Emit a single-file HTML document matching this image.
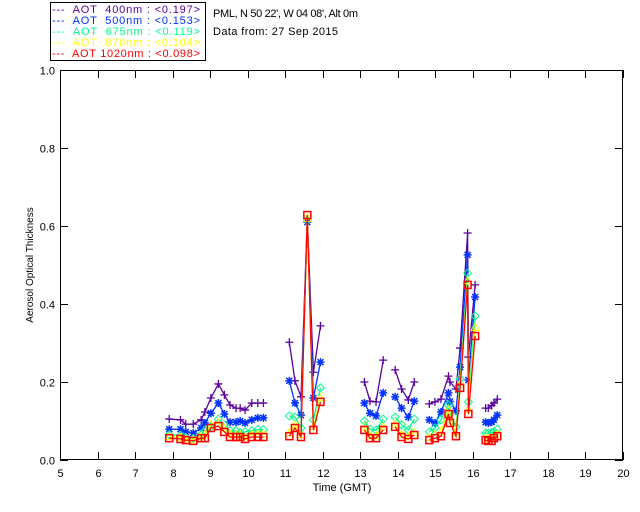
<!DOCTYPE html>
<html><head><meta charset="utf-8"><style>
html,body{margin:0;padding:0;background:#fff;}
svg{display:block;font-family:"Liberation Sans",sans-serif;}
</style></head><body>
<svg id="chart" width="640" height="512" viewBox="0 0 640 512" xmlns="http://www.w3.org/2000/svg">
<rect x="0" y="0" width="640" height="512" fill="#fff"/>
<g>
<rect x="50.5" y="2.5" width="155" height="58" fill="#fff" stroke="#000" stroke-width="1"/>
<text x="52" y="13" font-size="11" fill="#5a00a0" textLength="148" lengthAdjust="spacing" xml:space="preserve">---  AOT  400nm : &lt;0.197&gt;</text>
<text x="52" y="24" font-size="11" fill="#0033ff" textLength="148" lengthAdjust="spacing" xml:space="preserve">---  AOT  500nm : &lt;0.153&gt;</text>
<text x="52" y="35" font-size="11" fill="#00ff88" textLength="148" lengthAdjust="spacing" xml:space="preserve">---  AOT  675nm : &lt;0.119&gt;</text>
<text x="52" y="46" font-size="11" fill="#ffff00" textLength="148" lengthAdjust="spacing" xml:space="preserve">---  AOT  870nm : &lt;0.104&gt;</text>
<text x="52" y="57" font-size="11" fill="#ff0000" textLength="148" lengthAdjust="spacing" xml:space="preserve">---  AOT 1020nm : &lt;0.098&gt;</text>
</g>
<text x="213" y="17" font-size="11" fill="#000" textLength="145" lengthAdjust="spacing">PML, N 50 22', W 04 08', Alt 0m</text>
<text x="213" y="35" font-size="11" fill="#000" textLength="125" lengthAdjust="spacing">Data from: 27 Sep 2015</text>
<rect x="60.5" y="70.5" width="562" height="389" fill="none" stroke="#000" stroke-width="1"/>
<g id="axes"></g>
<g id="series"></g>
<text x="342" y="491" font-size="11" text-anchor="middle" fill="#000">Time (GMT)</text>
<text transform="translate(33,265) rotate(-90)" font-size="10" text-anchor="middle" fill="#000">Aerosol Optical Thickness</text>
</svg>
<script>
const xTicks=[5,6,7,8,9,10,11,12,13,14,15,16,17,18,19,20];
const yTicks=[0.0,0.2,0.4,0.6,0.8,1.0];
const yTickLabels=["0.0","0.2","0.4","0.6","0.8","1.0"];
const times=[7.91,8.21,8.35,8.55,8.76,8.86,9.02,9.22,9.38,9.53,9.69,9.80,9.93,10.11,10.27,10.42,null,
11.11,11.26,11.42,11.59,11.75,11.94,null,
13.11,13.26,13.42,13.61,null,
13.93,14.10,14.28,14.44,null,
14.84,14.99,15.15,15.35,15.39,15.55,15.66,15.86,15.88,16.06,null,
16.34,16.41,16.50,16.56,16.65];
const aot400=[.105,.103,.092,.092,.103,.123,.159,.195,.167,.141,.133,.133,.128,.146,.146,.146,null,
.302,.203,.162,.62,.225,.344,null,.2,.151,.149,.256,null,.231,.182,.154,.2,null,
.144,.149,.156,.215,.2,.182,.287,.582,.264,.449,null,.133,.133,.14,.146,.156];
const aot500=[.079,.079,.072,.069,.082,.095,.12,.146,.118,.097,.097,.1,.095,.103,.108,.108,null,
.203,.146,.115,.61,.159,.251,null,.146,.12,.113,.172,null,.162,.133,.11,.151,null,
.103,.095,.123,.172,.15,.126,.238,.526,.205,.418,null,.097,.095,.097,.103,.115];
const aot675=[.065,.063,.058,.055,.065,.075,.085,.105,.09,.075,.075,.07,.072,.075,.078,.078,null,
.113,.11,.082,.615,.103,.185,null,.1,.079,.077,.105,null,.11,.09,.077,.105,null,
.072,.082,.103,.141,.12,.085,.208,.479,.149,.369,null,.069,.069,.07,.072,.079];
const aot870=[.06,.058,.054,.052,.06,.064,.09,.095,.08,.065,.065,.064,.06,.065,.066,.066,null,
.07,.09,.065,.62,.085,.16,null,.085,.062,.062,.085,null,.092,.065,.06,.07,null,
.058,.064,.072,.128,.105,.07,.195,.46,.13,.34,null,.056,.055,.056,.06,.066];
const aot1020=[.056,.054,.051,.049,.056,.056,.082,.087,.072,.059,.059,.059,.054,.059,.059,.059,null,
.061,.082,.059,.628,.077,.149,null,.077,.056,.056,.077,null,.085,.059,.054,.064,null,
.051,.056,.061,.118,.095,.061,.185,.449,.118,.318,null,.051,.049,.049,.056,.061];

const NS="http://www.w3.org/2000/svg";
function xs(t){return 60+(t-5)*(563/15);}
function ys(v){return 460-v*390;}
function mk(tag,attrs,parent){const e=document.createElementNS(NS,tag);for(const k in attrs)e.setAttribute(k,attrs[k]);parent.appendChild(e);return e;}
const axes=document.getElementById('axes');
xTicks.forEach(t=>{
  const x=Math.round(xs(t))+0.5;
  let l=mk('line',{x1:x,x2:x,y1:460,y2:452,stroke:'#000'},axes);
  
  
  l=mk('line',{x1:x,x2:x,y1:70,y2:78,stroke:'#000'},axes);
  
  
  const tx=mk('text',{x:x,y:477,'font-size':11,'text-anchor':'middle',fill:'#000'},axes);
  tx.textContent=String(t);
  
  
});
yTicks.forEach((v,i)=>{
  const y=Math.round(ys(v))+0.5;
  let l=mk('line',{x1:60,x2:68,y1:y,y2:y,stroke:'#000'},axes);
  
  
  l=mk('line',{x1:623,x2:615,y1:y,y2:y,stroke:'#000'},axes);
  
  
  const tx=mk('text',{x:55,y:y+4,'font-size':11,'text-anchor':'end',fill:'#000'},axes);
  tx.textContent=yTickLabels[i];
  
  
});
const sg=document.getElementById('series');
function drawSeries(vals,color,marker,name){
  const g=mk('g',{},sg);
  
  
  let d='',start=true;
  for(let i=0;i<times.length;i++){
    if(times[i]===null||vals[i]===null){start=true;continue;}
    d+=(start?'M':'L')+xs(times[i]).toFixed(1)+' '+ys(vals[i]).toFixed(1)+' ';start=false;
  }
  const p=mk('path',{d:d,fill:'none',stroke:color,'stroke-width':1.3},g);
  
  
  for(let i=0;i<times.length;i++){
    if(times[i]===null||vals[i]===null)continue;
    const x=xs(times[i]),y=ys(vals[i]);let m;
    if(marker==='plus'){m=mk('path',{d:`M${x-4} ${y}H${x+4}M${x} ${y-4}V${y+4}`,stroke:color,'stroke-width':1.3,fill:'none'},g);}
    else if(marker==='star'){m=mk('path',{d:`M${x-4} ${y}H${x+4}M${x} ${y-4}V${y+4}M${x-3} ${y-3}L${x+3} ${y+3}M${x-3} ${y+3}L${x+3} ${y-3}`,stroke:color,'stroke-width':1.5,fill:'none'},g);}
    else if(marker==='diamond'){m=mk('path',{d:`M${x} ${y-4}L${x+4} ${y}L${x} ${y+4}L${x-4} ${y}Z`,stroke:color,'stroke-width':1,fill:'none'},g);}
    else if(marker==='tri'){m=mk('path',{d:`M${x} ${y-4}L${x+4} ${y+3}L${x-4} ${y+3}Z`,stroke:color,'stroke-width':1,fill:'none'},g);}
    else {m=mk('rect',{x:x-3.5,y:y-3.5,width:7,height:7,stroke:color,'stroke-width':1.5,fill:'none'},g);}
    
    
  }
}
drawSeries(aot400,'#5a00a0','plus','series-400nm');
drawSeries(aot500,'#0033ff','star','series-500nm');
drawSeries(aot675,'#00ff88','diamond','series-675nm');
drawSeries(aot870,'#ffff00','tri','series-870nm');
drawSeries(aot1020,'#ff0000','square','series-1020nm');
</script>
</body></html>
